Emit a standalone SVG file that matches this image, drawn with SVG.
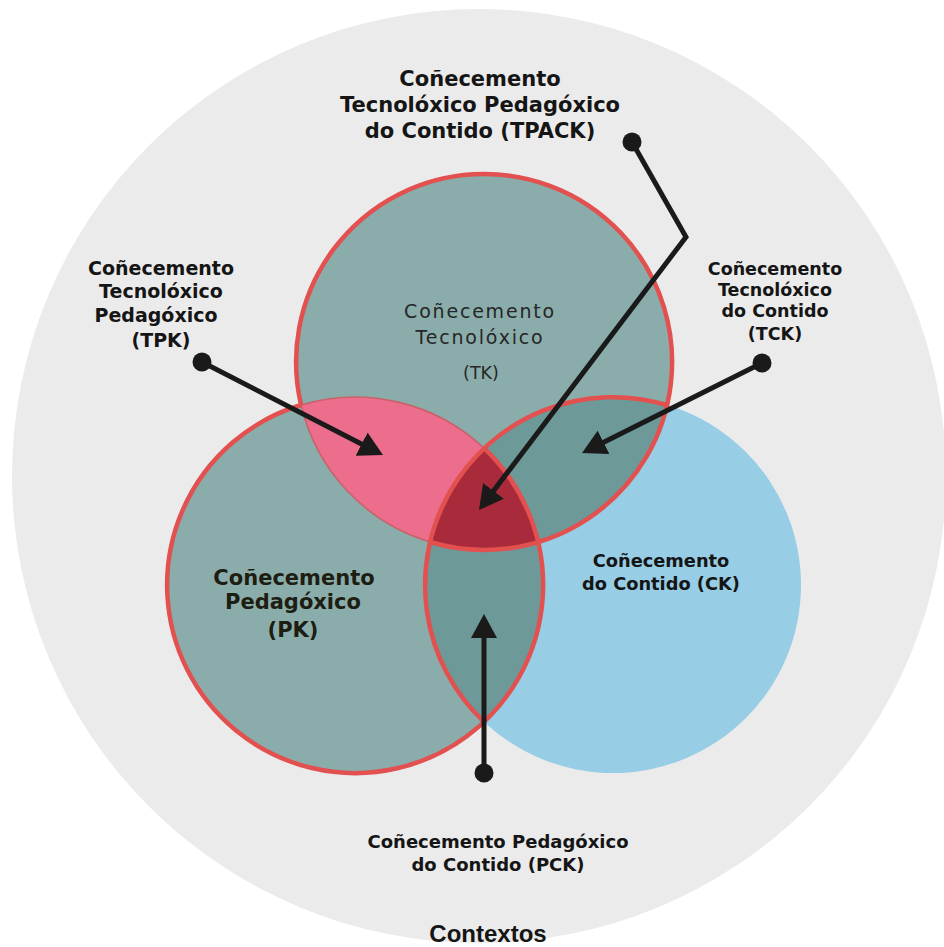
<svg xmlns="http://www.w3.org/2000/svg" width="944" height="947" viewBox="0 0 944 947">
<style>
.b{font-family:"DejaVu Sans",Verdana,sans-serif;font-weight:bold;fill:#151515;text-anchor:middle}
.r{font-family:"DejaVu Sans",Verdana,sans-serif;fill:#262626;text-anchor:middle}
.thick{fill:none;stroke:#e2504f;stroke-width:4.5}
.thin{fill:none;stroke:#c8636c;stroke-width:1.6}
.con{fill:none;stroke:#1a1a1a;stroke-width:5;stroke-linejoin:miter}
.dot{fill:#1a1a1a}
</style>
<defs>
<clipPath id="cTK"><circle cx="484" cy="362" r="188"/></clipPath>
<clipPath id="cPK"><circle cx="355" cy="585" r="188"/></clipPath>
<marker id="ah" viewBox="0 0 24 26" refX="2" refY="13" markerWidth="24" markerHeight="26" markerUnits="userSpaceOnUse" orient="auto">
<path d="M0,0 L24,13 L0,26 Z" fill="#1a1a1a"/>
</marker>
</defs>
<rect width="944" height="947" fill="#ffffff"/>
<circle id="contexto" cx="479" cy="476" r="467" fill="#ebebeb"/>

<g id="CK"><circle cx="613" cy="585" r="188" fill="#97cde5"/></g>
<g id="TK"><circle cx="484" cy="362" r="188" fill="#8aadab"/></g>
<g id="PK"><circle cx="355" cy="585" r="188" fill="#8aadab"/></g>
<g id="TPK"><circle cx="355" cy="585" r="188" fill="#ec6d8c" clip-path="url(#cTK)"/></g>
<g id="TCK"><circle cx="613" cy="585" r="188" fill="#6d9a98" clip-path="url(#cTK)"/></g>
<g id="PCK"><circle cx="613" cy="585" r="188" fill="#6d9a98" clip-path="url(#cPK)"/></g>
<g id="TPACK"><g clip-path="url(#cTK)"><circle cx="613" cy="585" r="188" fill="#a92a3a" clip-path="url(#cPK)"/></g></g>

<g id="outlines">
<path class="thin" d="M301.1,405 A188,188 0 0 0 430.1,542"/>
<path class="thin" d="M301.1,405 A188,188 0 0 1 484,448.2"/>
<path class="thick" d="M430.1,542 A188,188 0 1 0 301.1,405"/>
<path class="thick" d="M484,448.2 A188,188 0 1 1 301.1,405"/>
<path class="thick" d="M666.9,405 A188,188 0 0 0 484,721.8"/>
</g>

<g id="connectors">
<path class="con" d="M202,362 L363.4,445" marker-end="url(#ah)"/>
<circle class="dot" cx="202" cy="362" r="9.5"/>
<path class="con" d="M762,363 L601.7,443.2" marker-end="url(#ah)"/>
<circle class="dot" cx="762" cy="363" r="9.5"/>
<path class="con" d="M632,142 L686,237 L492.3,492.5" marker-end="url(#ah)"/>
<circle class="dot" cx="632" cy="142" r="9.5"/>
<path class="con" d="M484,773 L484,636" marker-end="url(#ah)"/>
<circle class="dot" cx="484" cy="773" r="9.5"/>
</g>

<g id="label-TPACK" class="b" font-size="21">
<text x="480" y="86">Coñecemento</text>
<text x="480" y="112">Tecnolóxico Pedagóxico</text>
<text x="480" y="138">do Contido (TPACK)</text>
</g>
<g id="label-TPK" class="b" font-size="19">
<text x="161" y="275">Coñecemento</text>
<text x="161" y="298">Tecnolóxico</text>
<text x="156" y="322">Pedagóxico</text>
<text x="161" y="347">(TPK)</text>
</g>
<g id="label-TCK" class="b" font-size="17.5">
<text x="775" y="275">Coñecemento</text>
<text x="775" y="296">Tecnolóxico</text>
<text x="775" y="317">do Contido</text>
<text x="775" y="340">(TCK)</text>
</g>
<g id="label-TK" class="r">
<text x="480" y="318" font-size="19" letter-spacing="1.8">Coñecemento</text>
<text x="480" y="344" font-size="19" letter-spacing="1.8">Tecnolóxico</text>
<text x="481" y="379" font-size="17.5">(TK)</text>
</g>
<g id="label-PK" class="b" font-size="21" style="fill:#1d1d12">
<text x="294" y="585">Coñecemento</text>
<text x="293" y="609">Pedagóxico</text>
<text x="293" y="637">(PK)</text>
</g>
<g id="label-CK" class="b" font-size="17.8">
<text x="661" y="567">Coñecemento</text>
<text x="661" y="590">do Contido (CK)</text>
</g>
<g id="label-PCK" class="b" font-size="18">
<text x="498" y="848">Coñecemento Pedagóxico</text>
<text x="498" y="871">do Contido (PCK)</text>
</g>
<g id="label-contextos">
<text x="488" y="942" font-family="'Liberation Sans',Arial,sans-serif" font-weight="bold" font-size="24" fill="#151515" text-anchor="middle">Contextos</text>
</g>
</svg>
